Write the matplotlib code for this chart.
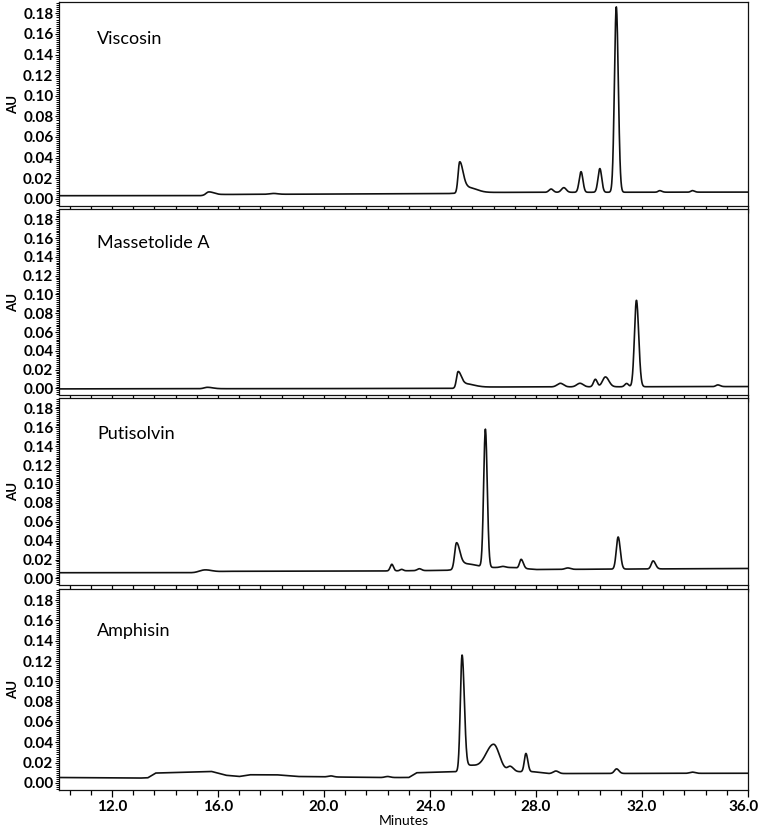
import matplotlib.pyplot as plt
import matplotlib.transforms as mtransforms
import numpy as np
from matplotlib.ticker import MultipleLocator, FormatStrFormatter

# compounds shown in the four panels, top to bottom
names = ["Viscosin", "Massetolide A", "Putisolvin", "Amphisin"]

# baseline (minutes, AU)
visc_base_t = [10, 15.3, 16.2, 24.6, 25.9, 36]
visc_base_y = [0.003, 0.003, 0.0042, 0.005, 0.0062, 0.0065]
# peaks: retention time, height above baseline, left / right width
visc_pk_t = [15.65, 18.1, 25.12, 25.45, 28.57, 29.05, 29.70, 30.41, 31.03, 32.67, 33.90]
visc_pk_h = [0.0032, 0.0008, 0.030, 0.005, 0.0032, 0.0045, 0.020, 0.023, 0.180, 0.0015, 0.0015]
visc_pk_l = [0.10, 0.15, 0.06, 0.15, 0.08, 0.09, 0.07, 0.07, 0.07, 0.06, 0.06]
visc_pk_r = [0.20, 0.15, 0.13, 0.30, 0.08, 0.09, 0.07, 0.07, 0.075, 0.08, 0.08]

mass_base_t = [10, 24.8, 25.9, 36]
mass_base_y = [-0.0005, 0.0, 0.0015, 0.002]
mass_pk_t = [15.6, 25.06, 25.35, 28.92, 29.66, 30.24, 30.62, 31.42, 31.79, 34.86]
mass_pk_h = [0.0015, 0.017, 0.004, 0.0038, 0.0038, 0.008, 0.0105, 0.0035, 0.092, 0.0018]
mass_pk_l = [0.12, 0.06, 0.15, 0.12, 0.12, 0.07, 0.11, 0.07, 0.075, 0.07]
mass_pk_r = [0.20, 0.12, 0.30, 0.12, 0.12, 0.07, 0.13, 0.07, 0.085, 0.09]

puti_base_t = [10, 15.1, 16.3, 22.0, 24.6, 25.9, 27.1, 28.0, 36]
puti_base_y = [0.006, 0.006, 0.0075, 0.0078, 0.0085, 0.0115, 0.0115, 0.0094, 0.0105]
puti_pk_t = [15.5, 22.56, 22.93, 23.6, 25.0, 25.35, 26.09, 26.75, 27.44, 29.2, 31.1, 32.42]
puti_pk_h = [0.0025, 0.007, 0.0015, 0.002, 0.028, 0.005, 0.146, 0.0012, 0.0095, 0.0015, 0.034, 0.0085]
puti_pk_l = [0.20, 0.06, 0.06, 0.08, 0.07, 0.15, 0.065, 0.10, 0.06, 0.10, 0.07, 0.07]
puti_pk_r = [0.25, 0.06, 0.06, 0.08, 0.13, 0.35, 0.07, 0.10, 0.08, 0.10, 0.08, 0.09]

amph_base_t = [10, 13.0, 13.35, 13.65, 15.75, 16.3, 16.8, 17.2, 18.2, 19.0,
               22.0, 23.2, 23.5, 24.9, 26.0, 27.9, 28.5, 36]
amph_base_y = [0.0053, 0.0047, 0.0050, 0.0097, 0.0113, 0.0075, 0.0063, 0.008, 0.008, 0.0063,
               0.0053, 0.0053, 0.0100, 0.011, 0.011, 0.011, 0.0092, 0.0095]
amph_pk_t = [20.26, 22.4, 25.21, 25.5, 26.4, 27.03, 27.62, 28.75, 31.04, 33.9]
amph_pk_h = [0.001, 0.001, 0.114, 0.006, 0.027, 0.005, 0.018, 0.0025, 0.0045, 0.0012]
amph_pk_l = [0.10, 0.10, 0.065, 0.15, 0.30, 0.10, 0.06, 0.10, 0.08, 0.10]
amph_pk_r = [0.10, 0.10, 0.085, 0.30, 0.22, 0.12, 0.07, 0.10, 0.09, 0.10]

panels = [
    (visc_base_t, visc_base_y, visc_pk_t, visc_pk_h, visc_pk_l, visc_pk_r),
    (mass_base_t, mass_base_y, mass_pk_t, mass_pk_h, mass_pk_l, mass_pk_r),
    (puti_base_t, puti_base_y, puti_pk_t, puti_pk_h, puti_pk_l, puti_pk_r),
    (amph_base_t, amph_base_y, amph_pk_t, amph_pk_h, amph_pk_l, amph_pk_r),
]


def trace(t, base_t, base_y, pk_t, pk_h, pk_l, pk_r):
    """baseline plus asymmetric gaussian peaks"""
    y = np.interp(t, base_t, base_y)
    for c, h, sl, sr in zip(pk_t, pk_h, pk_l, pk_r):
        s = np.where(t < c, sl, sr)
        y = y + h * np.exp(-0.5 * ((t - c) / s) ** 2)
    return y


plt.rcParams['font.family'] = ['Lato', 'DejaVu Sans']

W, H = 761, 830
fig = plt.figure(figsize=(W / 100, H / 100), dpi=100)

# panel edges in pixels (top, bottom)
rows = [(2, 206), (209, 395), (398, 585), (589, 790)]
left, right = 59, 748

t = np.linspace(10, 36, 4000)
text_y = [0.82, 0.815, 0.81, 0.79]

for i, (name, data) in enumerate(zip(names, panels)):
    top, bot = rows[i]
    ax = fig.add_axes([left / W, 1 - bot / H, (right - left) / W, (bot - top) / H])
    ax.plot(t, trace(t, *data), color='#111111', lw=1.2)
    ax.set_xlim(10, 36)
    ax.set_ylim(-0.007, 0.191)
    for sp in ax.spines.values():
        sp.set_linewidth(0.9)
        sp.set_color('#111111')

    ax.xaxis.set_major_locator(MultipleLocator(4))
    ax.xaxis.set_minor_locator(MultipleLocator(0.8))
    ax.yaxis.set_major_locator(MultipleLocator(0.02))
    ax.yaxis.set_minor_locator(MultipleLocator(0.002))
    ax.yaxis.set_major_formatter(FormatStrFormatter('%.2f'))
    ax.xaxis.set_major_formatter(FormatStrFormatter('%.1f'))
    ax.tick_params(axis='x', which='major', direction='out', length=5, width=0.9, pad=2)
    ax.tick_params(axis='x', which='minor', direction='out', length=3.5, width=0.9)
    ax.tick_params(axis='y', which='major', direction='out', length=3, width=0.8, pad=1)
    ax.tick_params(axis='y', which='minor', direction='out', length=2.2, width=0.7)
    for lab in ax.get_yticklabels():
        lab.set_fontsize(11)
        lab.set_fontweight('bold')

    if i < 3:
        ax.tick_params(axis='x', labelbottom=False)
    else:
        labs = ax.get_xticklabels()
        for lab in labs:
            lab.set_fontsize(11)
            lab.set_fontweight('bold')
        # keep the last label (36.0) inside the picture
        fig.canvas.draw()
        last = [lab for lab in ax.get_xticklabels() if lab.get_text() == '36.0']
        for lab in last:
            lab.set_transform(lab.get_transform() +
                              mtransforms.ScaledTranslation(-4 / 100, 0, fig.dpi_scale_trans))
        ax.set_xlabel("Minutes", fontsize=10, labelpad=1)

    ax.set_ylabel("AU", fontsize=9.5, fontweight='bold', labelpad=3)
    ax.text(0.055, text_y[i], name, transform=ax.transAxes, fontsize=13,
            va='center', ha='left')

fig.savefig("out.png", dpi=100)
